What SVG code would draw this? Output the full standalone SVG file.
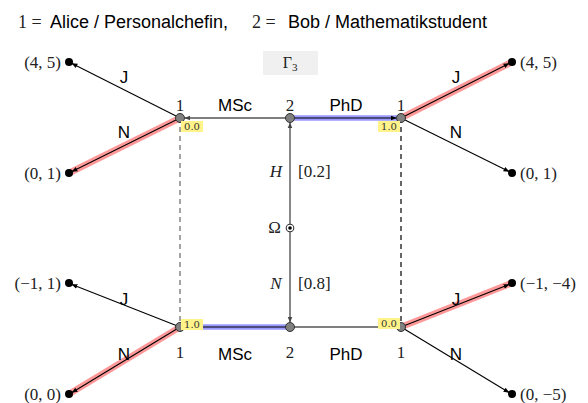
<svg xmlns="http://www.w3.org/2000/svg" width="588" height="403" viewBox="0 0 588 403">
<defs>
<marker id="ah" viewBox="0 0 10 10" refX="9" refY="5" markerWidth="6" markerHeight="6" orient="auto-start-reverse" markerUnits="userSpaceOnUse"><path d="M0,1 L10,5 L0,9 z" fill="#000"/></marker>
<marker id="ahg" viewBox="0 0 10 10" refX="9" refY="5" markerWidth="6" markerHeight="6" orient="auto-start-reverse" markerUnits="userSpaceOnUse"><path d="M0,1 L10,5 L0,9 z" fill="#444"/></marker>
</defs>
<style>
.sans{font-family:"Liberation Sans",Arial,sans-serif;font-size:17px;fill:#000}
.math{font-family:"Liberation Serif",serif;font-size:16px;fill:#222}
.mi{font-family:"Liberation Serif",serif;font-size:17px;font-style:italic;fill:#222}
.e{stroke:#000;stroke-width:1.1;fill:none;marker-end:url(#ah)}
.eg{stroke:#555;stroke-width:1.4;fill:none;marker-end:url(#ahg)}
.red{stroke:#f99;stroke-width:6.5;stroke-linecap:round;fill:none}
.blue{stroke:#99f;stroke-width:5.5;fill:none}
.node{fill:#808080;stroke:#333;stroke-width:1}
.leaf{fill:#000}
.tag{fill:#fff38a}
.tagt{font-family:"DejaVu Serif","Liberation Serif",serif;font-size:10px;fill:#333}
.lbl{font-family:"Liberation Serif",serif;font-size:17px;fill:#222}
</style>
<rect width="588" height="403" fill="#fff"/>
<text x="18" y="28" class="math" style="font-size:18px">1 =</text>
<text x="50" y="28" class="sans" style="font-size:18px">Alice / Personalchefin,</text>
<text x="252" y="28" class="math" style="font-size:18px">2 =</text>
<text x="288" y="28" class="sans" style="font-size:18px">Bob / Mathematikstudent</text>
<g id="gamma"><rect x="263" y="51" width="55" height="24" fill="#f0f0f0"/><text x="290" y="68" class="math" text-anchor="middle">Γ<tspan font-size="11" dy="3">3</tspan></text></g>
<g id="connectors">
<line x1="180" y1="118" x2="180" y2="327" stroke="#666" stroke-dasharray="5,4" stroke-width="1.2"/>
<line x1="401" y1="118" x2="401" y2="327" stroke="#000" stroke-dasharray="5,4" stroke-width="1.2"/>
<line class="red" x1="180" y1="118" x2="69" y2="173"/>
<line class="red" x1="401" y1="118" x2="512" y2="62"/>
<line class="red" x1="180" y1="327" x2="69" y2="394"/>
<line class="red" x1="401" y1="327" x2="512" y2="283"/>
<line class="blue" x1="290" y1="118" x2="401" y2="118"/>
<line class="blue" x1="290" y1="327" x2="180" y2="327"/>
<line class="e" x1="180" y1="118" x2="72" y2="63.5"/>
<line class="e" x1="180" y1="118" x2="72" y2="171.5"/>
<line class="e" x1="401" y1="118" x2="509" y2="63.5"/>
<line class="e" x1="401" y1="118" x2="509" y2="171.5"/>
<line class="e" x1="180" y1="327" x2="72" y2="284.5"/>
<line class="e" x1="180" y1="327" x2="72" y2="392.5"/>
<line class="e" x1="401" y1="327" x2="509" y2="284.5"/>
<line class="e" x1="401" y1="327" x2="509" y2="392.5"/>
<line class="eg" x1="290" y1="118" x2="185" y2="118"/>
<line class="e" x1="290" y1="118" x2="396" y2="118"/>
<line class="e" x1="290" y1="327" x2="185" y2="327"/>
<line class="e" x1="290" y1="327" x2="396" y2="327"/>
<line class="eg" x1="290" y1="228" x2="290" y2="123"/>
<line class="eg" x1="290" y1="228" x2="290" y2="322"/>
</g>
<g id="labels">
<text x="124" y="83" class="sans" text-anchor="middle">J</text>
<text x="124" y="138" class="sans" text-anchor="middle">N</text>
<text x="456" y="83" class="sans" text-anchor="middle">J</text>
<text x="456" y="138" class="sans" text-anchor="middle">N</text>
<text x="124" y="305" class="sans" text-anchor="middle">J</text>
<text x="124" y="360" class="sans" text-anchor="middle">N</text>
<text x="456" y="305" class="sans" text-anchor="middle">J</text>
<text x="456" y="360" class="sans" text-anchor="middle">N</text>
<text x="235" y="111" class="sans" text-anchor="middle">MSc</text>
<text x="346" y="111" class="sans" text-anchor="middle">PhD</text>
<text x="235" y="360" class="sans" text-anchor="middle">MSc</text>
<text x="346" y="360" class="sans" text-anchor="middle">PhD</text>
<text x="276" y="177" class="mi" text-anchor="middle">H</text>
<text x="298" y="177" class="lbl">[0.2]</text>
<text x="276" y="289" class="mi" text-anchor="middle">N</text>
<text x="298" y="289" class="lbl">[0.8]</text>
</g>
<g id="n_tl"><circle class="node" cx="180" cy="118" r="4.5"/><text x="180" y="111" class="lbl" text-anchor="middle">1</text><rect class="tag" x="181" y="121" width="22" height="11"/><text x="192" y="130" class="tagt" text-anchor="middle">0.0</text></g>
<g id="n_tm"><circle class="node" cx="290" cy="118" r="4.5"/><text x="290" y="111" class="lbl" text-anchor="middle">2</text></g>
<g id="n_tr"><circle class="node" cx="401" cy="118" r="4.5"/><text x="401" y="111" class="lbl" text-anchor="middle">1</text><rect class="tag" x="378" y="121" width="22" height="11"/><text x="389" y="130" class="tagt" text-anchor="middle">1.0</text></g>
<g id="n_bl"><circle class="node" cx="180" cy="327" r="4.5"/><text x="180" y="358" class="lbl" text-anchor="middle">1</text><rect class="tag" x="181" y="319" width="22" height="11"/><text x="192" y="328" class="tagt" text-anchor="middle">1.0</text></g>
<g id="n_bm"><circle class="node" cx="290" cy="327" r="4.5"/><text x="290" y="358" class="lbl" text-anchor="middle">2</text></g>
<g id="n_br"><circle class="node" cx="401" cy="327" r="4.5"/><text x="401" y="358" class="lbl" text-anchor="middle">1</text><rect class="tag" x="378" y="318" width="22" height="11"/><text x="389" y="327" class="tagt" text-anchor="middle">0.0</text></g>
<g id="omega"><circle cx="290" cy="228" r="3.8" fill="#fff" stroke="#333" stroke-width="1.1"/><circle cx="290" cy="228" r="1.8" fill="#000"/><text x="281" y="233" class="lbl" text-anchor="end">Ω</text></g>
<g id="l1"><circle class="leaf" cx="69" cy="62" r="4"/><text x="61" y="68" class="lbl" text-anchor="end">(4, 5)</text></g>
<g id="l2"><circle class="leaf" cx="69" cy="173" r="4"/><text x="61" y="179" class="lbl" text-anchor="end">(0, 1)</text></g>
<g id="l3"><circle class="leaf" cx="69" cy="283" r="4"/><text x="61" y="289" class="lbl" text-anchor="end">(−1, 1)</text></g>
<g id="l4"><circle class="leaf" cx="69" cy="394" r="4"/><text x="61" y="400" class="lbl" text-anchor="end">(0, 0)</text></g>
<g id="r1"><circle class="leaf" cx="512" cy="62" r="4"/><text x="520" y="68" class="lbl">(4, 5)</text></g>
<g id="r2"><circle class="leaf" cx="512" cy="173" r="4"/><text x="520" y="179" class="lbl">(0, 1)</text></g>
<g id="r3"><circle class="leaf" cx="512" cy="283" r="4"/><text x="520" y="289" class="lbl">(−1, −4)</text></g>
<g id="r4"><circle class="leaf" cx="512" cy="394" r="4"/><text x="520" y="400" class="lbl">(0, −5)</text></g>
</svg>
